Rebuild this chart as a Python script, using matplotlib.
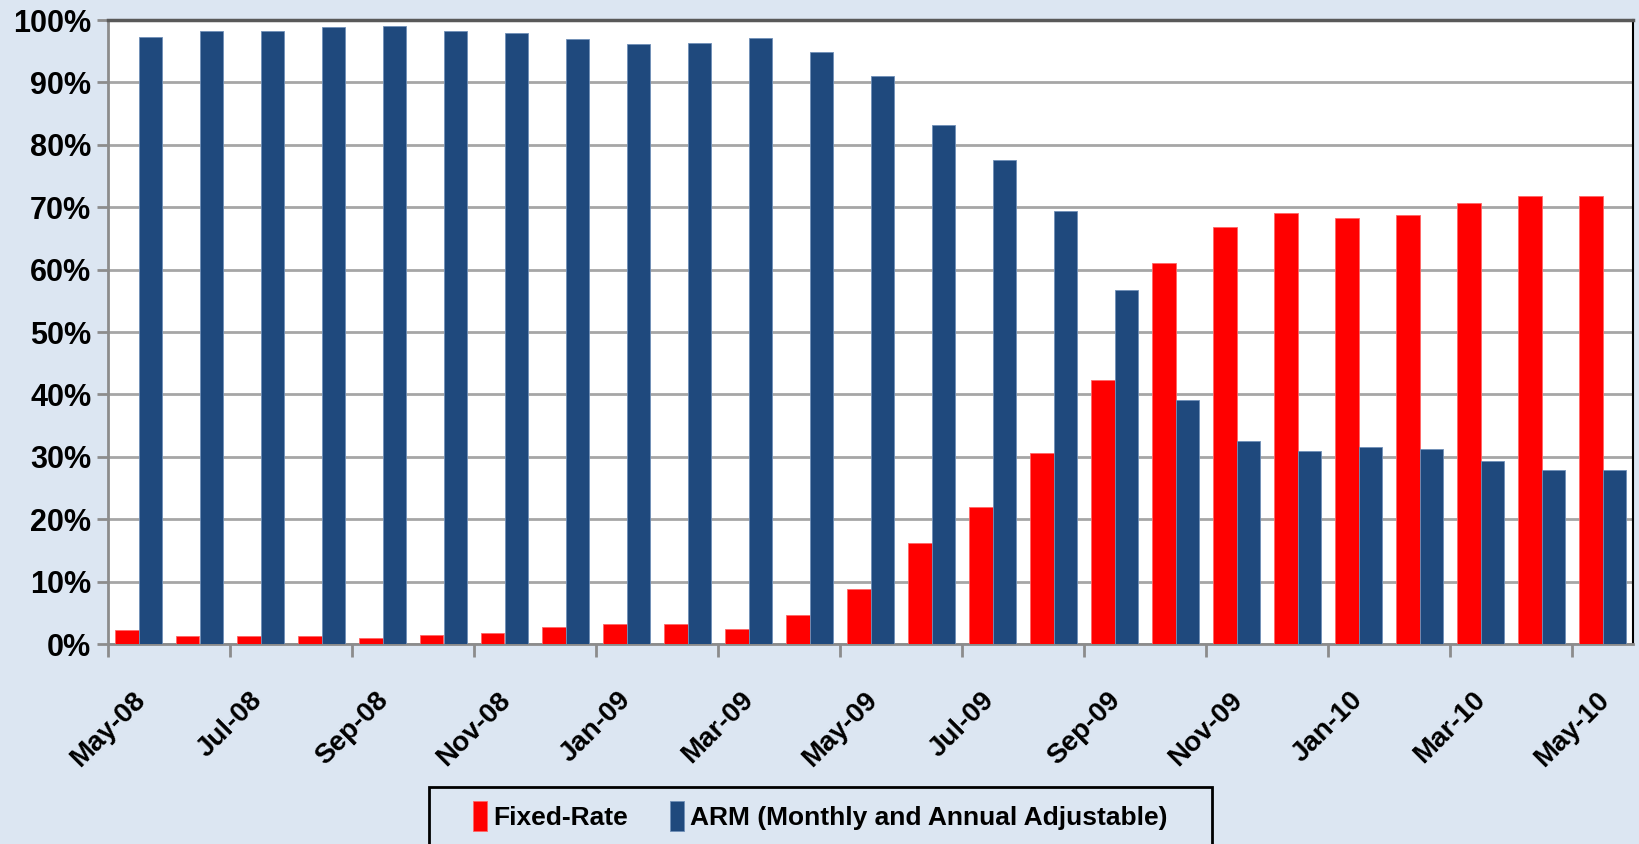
import numpy as np
import matplotlib
matplotlib.use("Agg")
import matplotlib.pyplot as plt
from matplotlib.patches import Rectangle

# share of new loans by type, May-08 .. May-10 (percent)
months = ["May-08", "Jun-08", "Jul-08", "Aug-08", "Sep-08", "Oct-08", "Nov-08", "Dec-08",
          "Jan-09", "Feb-09", "Mar-09", "Apr-09", "May-09", "Jun-09", "Jul-09", "Aug-09",
          "Sep-09", "Oct-09", "Nov-09", "Dec-09", "Jan-10", "Feb-10", "Mar-10", "Apr-10", "May-10"]
fixed = [2.3, 1.3, 1.3, 1.3, 1.0, 1.5, 1.7, 2.7, 3.2, 3.2, 2.4, 4.7, 8.8, 16.2, 21.9, 30.6,
         42.3, 61.0, 66.9, 69.0, 68.2, 68.8, 70.6, 71.8, 71.8]
arm = [97.3, 98.3, 98.3, 98.8, 99.0, 98.3, 97.9, 96.9, 96.1, 96.3, 97.1, 94.8, 91.1, 83.2,
       77.6, 69.4, 56.8, 39.1, 32.6, 31.0, 31.6, 31.2, 29.4, 27.9, 27.9]
yticks = list(range(0, 101, 10))

BG = "#dce6f2"
RED = "#ff0000"
BLUE = "#1f497d"
plt.rcParams["font.family"] = ["Liberation Sans", "DejaVu Sans"]

fig = plt.figure(figsize=(16.39, 8.44), dpi=100, facecolor=BG)
ax = fig.add_axes([108 / 1639, 200 / 844, 1525 / 1639, 624 / 844])
ax.set_facecolor("white")

x = np.arange(len(months))
w = 0.39
ax.bar(x - w / 2, fixed, w, color=RED, edgecolor="#ff6666", linewidth=0.6,
       label="Fixed-Rate", zorder=3)
ax.bar(x + w / 2, arm, w, color=BLUE, edgecolor="#6f8fb8", linewidth=0.6,
       label="ARM (Monthly and Annual Adjustable)", zorder=3)

ax.set_xlim(-0.5, len(months) - 0.5)
ax.set_ylim(0, 100)
ax.set_yticks(yticks)
ax.set_yticklabels([f"{v}%" for v in yticks], fontsize=22, fontweight="bold")
ax.yaxis.grid(True, color="#a6a6a6", linewidth=2, zorder=0)

tick_pos = x[::2] - 0.5
ax.set_xticks(tick_pos)
ax.set_xticklabels(months[::2], rotation=45, ha="center", va="top",
                   fontsize=20, fontweight="bold")

ax.tick_params(axis="y", length=8, width=2, color="#8c8c8c", pad=4)
ax.tick_params(axis="x", length=9, width=2, color="#8c8c8c", pad=22)

for side in ["left", "bottom"]:
    ax.spines[side].set_color("#8c8c8c")
    ax.spines[side].set_linewidth(2)
ax.spines["top"].set_color("#595959")
ax.spines["top"].set_linewidth(2.5)
ax.spines["right"].set_color("black")
ax.spines["right"].set_linewidth(1.5)

# legend box running off the bottom edge
fig.patches.append(Rectangle((429 / 1639, -0.05), 783 / 1639, 0.05 + 57 / 844,
                             transform=fig.transFigure, facecolor=BG,
                             edgecolor="black", linewidth=2))
fig.legend(loc="center", bbox_to_anchor=(820 / 1639, 28 / 844), ncol=2, frameon=False,
           handlelength=0.55, handleheight=1.4, handletextpad=0.2, columnspacing=1.6,
           prop={"size": 19, "weight": "bold"})

fig.savefig("out.png", dpi=100, facecolor=BG)
